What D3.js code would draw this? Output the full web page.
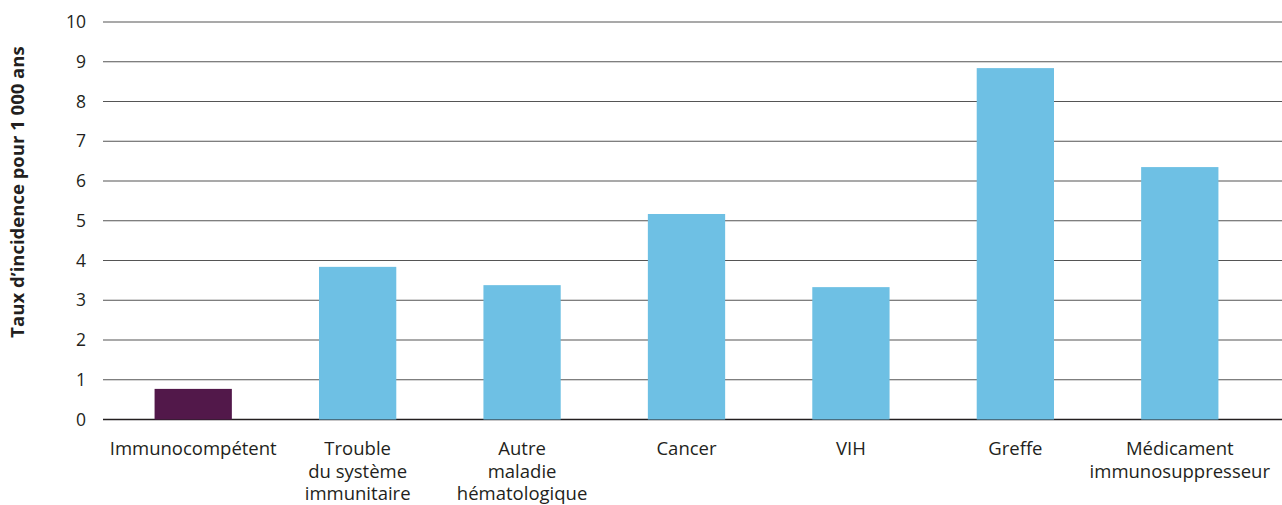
<!DOCTYPE html>
<html lang="fr">
<head>
<meta charset="utf-8">
<script src="https://cdn.jsdelivr.net/npm/d3@7"></script>
<style>
  html, body { margin: 0; padding: 0; background: #fff; }
  svg { display: block; font-family: "Open Sans", "Noto Sans", sans-serif; }
</style>
</head>
<body>
<svg id="chart" width="1282" height="505"></svg>
<script>
// Taux d'incidence pour 1 000 ans, selon le statut immunitaire
const categories = [
  ["Immunocompétent"],
  ["Trouble", "du système", "immunitaire"],
  ["Autre", "maladie", "hématologique"],
  ["Cancer"],
  ["VIH"],
  ["Greffe"],
  ["Médicament", "immunosuppresseur"]
];
const rates = [0.77, 3.84, 3.38, 5.17, 3.33, 8.84, 6.35];
const yTicks = [0, 1, 2, 3, 4, 5, 6, 7, 8, 9, 10];
const yTitle = "Taux d’incidence pour 1 000 ans";

const svg = d3.select("#chart");
const keys = categories.map(c => c.join(" "));

const x = d3.scaleBand()
  .domain(keys)
  .range([111, 1262])
  .paddingInner(0.53)
  .paddingOuter(0.265);

const y = d3.scaleLinear().domain([0, 10]).range([419.5, 22]);

// horizontal grid lines
svg.append("g")
  .selectAll("line")
  .data(yTicks)
  .join("line")
  .attr("x1", 103)
  .attr("x2", 1282)
  .attr("y1", d => y(d))
  .attr("y2", d => y(d))
  .attr("stroke", d => d === 0 ? "#231f20" : "#555")
  .attr("stroke-width", d => d === 0 ? 1.4 : 1.2);

// y tick labels
const yAxis = d3.axisLeft(y).tickValues(yTicks).tickSize(0).tickPadding(0);
const gy = svg.append("g").attr("transform", "translate(86,0)").call(yAxis);
gy.select(".domain").remove();
gy.selectAll("text")
  .attr("font-size", 17.5)
  .attr("fill", "#231f20")
  .attr("font-family", "'Open Sans', 'Noto Sans', sans-serif");

// bars
svg.append("g")
  .selectAll("rect")
  .data(rates)
  .join("rect")
  .attr("x", (d, i) => x(keys[i]))
  .attr("width", x.bandwidth())
  .attr("y", d => y(d))
  .attr("height", d => y(0) - y(d))
  .attr("fill", (d, i) => i === 0 ? "#52184a" : "#6ec0e4");

// category labels
const lab = svg.append("g")
  .selectAll("text")
  .data(categories)
  .join("text")
  .attr("text-anchor", "middle")
  .attr("font-size", 18.5)
  .attr("fill", "#231f20")
  .attr("transform", (d, i) => `translate(${x(keys[i]) + x.bandwidth() / 2},455)`);
lab.selectAll("tspan")
  .data(d => d)
  .join("tspan")
  .attr("x", 0)
  .attr("dy", (d, j) => j === 0 ? 0 : 22.5)
  .text(d => d);

// y axis title
svg.append("text")
  .attr("transform", "translate(24,192) rotate(-90)")
  .attr("text-anchor", "middle")
  .attr("font-size", 18.5)
  .attr("font-weight", "bold")
  .attr("fill", "#231f20")
  .text(yTitle);
</script>
</body>
</html>
